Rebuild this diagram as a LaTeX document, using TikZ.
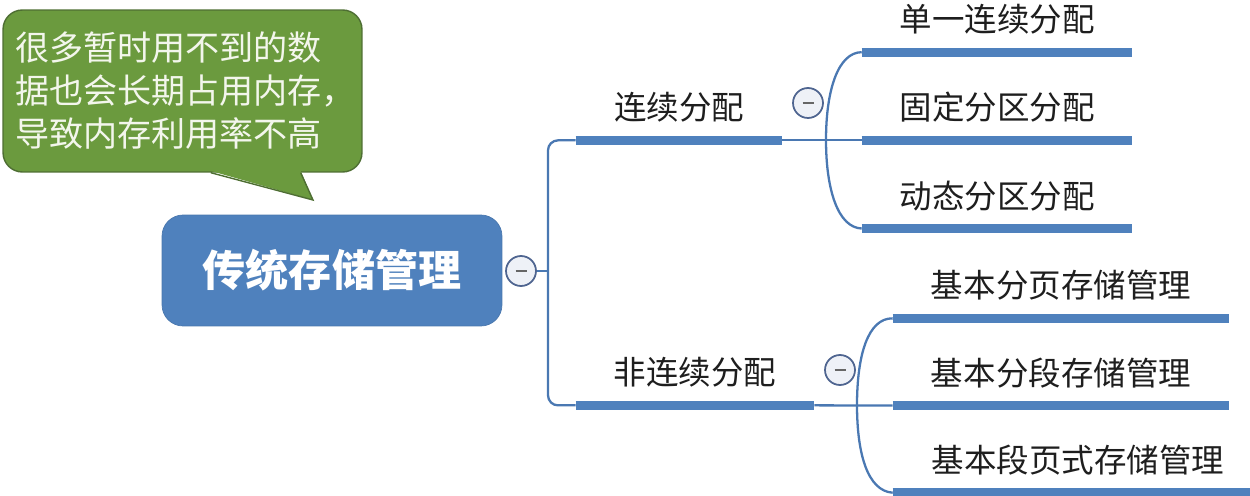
\documentclass[tikz,border=0pt]{standalone}
\usepackage{fontspec}
\usepackage{tikz}
\usetikzlibrary{positioning}
\newfontfamily\cjk{Noto Sans CJK SC}
\definecolor{azultema}{HTML}{4F81BD}
\definecolor{azullinea}{HTML}{4A78B2}
\definecolor{verdenota}{HTML}{6B9A3E}
\definecolor{verdeborde}{HTML}{4E6E33}
\definecolor{textonota}{HTML}{F3F6EC}
\definecolor{gristexto}{HTML}{1E1E1E}
\definecolor{bordeboton}{HTML}{4F6590}
\definecolor{fondoboton}{HTML}{EEF1F7}

\begin{document}
\begin{tikzpicture}[
    x=0.02cm, y=-0.02cm,
    raiz/.style={draw=azultema!92!black, fill=azultema, rounded corners=12pt,
      minimum width=6.8cm, minimum height=2.22cm, text=white,
      font=\cjk\bfseries\fontsize{24.5}{28}\selectfont},
    nota/.style={draw=verdeborde, line width=0.8pt, fill=verdenota, rounded corners=11pt,
      minimum width=7.18cm, minimum height=3.24cm, text width=6.7cm, align=left,
      inner xsep=0.24cm, inner ysep=0pt, text=textonota,
      font=\cjk\fontsize{19.4}{24.5}\selectfont},
    rama/.style={minimum height=1.3cm, inner sep=0pt, text=gristexto,
      font=\cjk\fontsize{18.5}{22}\selectfont},
    barra/.style={line width=5pt, draw=azultema},
    linea/.style={line width=1.3pt, draw=azullinea},
    boton/.style={circle, draw=bordeboton, fill=fondoboton, line width=1pt,
      minimum size=0.6cm, inner sep=0pt,
      path picture={\draw[gray!80!black, line width=1.1pt]
        ([xshift=-0.11cm]path picture bounding box.center) --
        ([xshift=0.11cm]path picture bounding box.center);}}
  ]
    \useasboundingbox (0,0) rectangle (1250,496);

    \node[nota] (nota) at (182.5,91) {很多暂时用不到的数\\据也会长期占用内存，\\导致内存利用率不高};
    \coordinate (punta) at (313,200);
    \fill[verdenota] ([xshift=-3.04cm,yshift=1pt]nota.south east) -- (punta)
      -- ([xshift=-1.24cm,yshift=1pt]nota.south east) -- cycle;
    \draw[verdeborde, line width=0.8pt] ([xshift=-3.04cm]nota.south east) -- (punta)
      -- ([xshift=-1.24cm]nota.south east);

    \node[raiz] (raiz) at (332,270.5) {传统存储管理};
    \node[boton] (b0) at (521,271) {};
    \coordinate (tronco) at (548,271);

    \node[rama, minimum width=4.12cm] (cont) at (679,107.5) {连续分配};
    \node[rama, minimum width=4.76cm] (nocont) at (695,372.5) {非连续分配};
    \node[boton] (b1) at (808,103) {};
    \node[boton] (b2) at (840,370) {};

    \node[rama, minimum width=5.4cm] (fija) at (997,107.5) {固定分区分配};
    \node[rama, minimum width=5.4cm, above=0.45cm of fija] (unica) {单一连续分配};
    \node[rama, minimum width=5.4cm, below=0.45cm of fija] (dinamica) {动态分区分配};

    \node[rama, minimum width=6.72cm] (pagina) at (1061,285.5) {基本分页存储管理};
    \node[rama, minimum width=6.72cm, below=0.43cm of pagina] (segmento) {基本分段存储管理};
    \node[rama, minimum width=7.4cm, below=0.43cm of segmento.south west,
      anchor=north west] (segpag) {基本段页式存储管理};

    \foreach \n in {cont,nocont,unica,fija,dinamica,pagina,segmento,segpag}
      \draw[barra] (\n.south west) -- (\n.south east);

    \draw[linea] (b0) -- (tronco);
    \draw[linea, rounded corners=0.2cm] (cont.south west) -| (tronco) |- (nocont.south west);

    \coordinate (horqc) at (826,140);
    \draw[linea] (cont.south east) -- (fija.south west);
    \draw[linea] (unica.south west) .. controls (838,52.5) and (826,90) .. (horqc)
      .. controls (826,190) and (838,227.5) .. (dinamica.south west);

    \coordinate (horqn) at (857,405);
    \draw[linea] (nocont.south east) -- (segmento.south west);
    \draw[linea] (pagina.south west) .. controls (868,318) and (857,355) .. (horqn)
      .. controls (857,455) and (868,491) .. (segpag.south west);
  \end{tikzpicture}
\end{document}
